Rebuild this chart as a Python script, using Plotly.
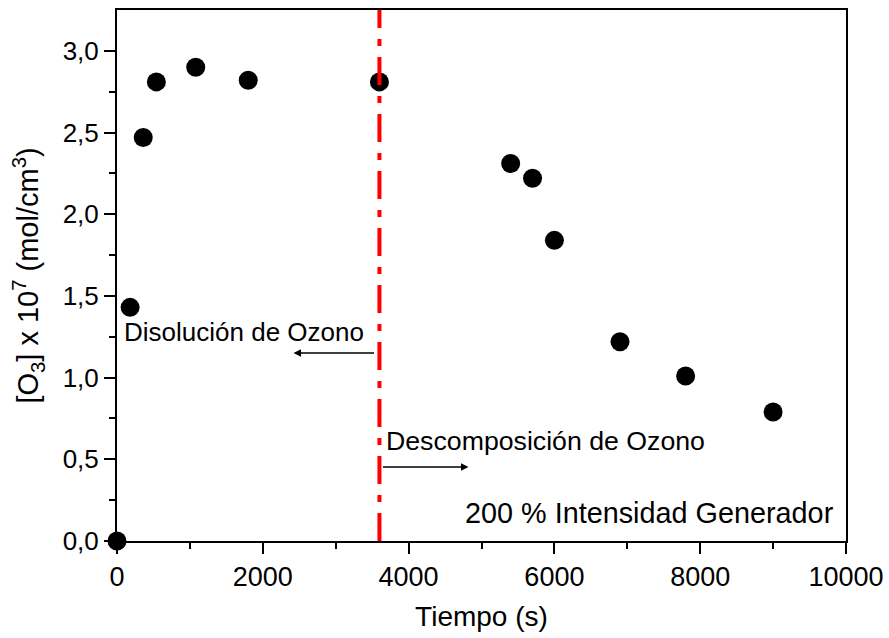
import plotly.graph_objects as go

# Data
tiempo = [0, 180, 360, 540, 1080, 1800, 3600, 5400, 5700, 6000, 6900, 7800, 9000]
ozono = [0.0, 1.43, 2.47, 2.81, 2.90, 2.82, 2.81, 2.31, 2.22, 1.84, 1.22, 1.01, 0.79]

x_tickvals = [0, 2000, 4000, 6000, 8000, 10000]
x_ticktext = ["0", "2000", "4000", "6000", "8000", "10000"]
y_tickvals = [0.0, 0.5, 1.0, 1.5, 2.0, 2.5, 3.0]
y_ticktext = ["0,0", "0,5", "1,0", "1,5", "2,0", "2,5", "3,0"]
x_minor = [1000, 3000, 5000, 7000, 9000]
y_minor = [0.25, 0.75, 1.25, 1.75, 2.25, 2.75]

t_cambio = 3600

FONT = "Liberation Sans, Arial, sans-serif"

fig = go.Figure()
fig.add_trace(go.Scatter(
    x=tiempo, y=ozono, mode="markers",
    marker=dict(color="black", size=19, line=dict(width=0)),
    cliponaxis=False, showlegend=False,
))

fig.add_shape(type="line", xref="x", yref="paper", x0=t_cambio, x1=t_cambio, y0=0, y1=1.0,
              line=dict(color="#ff0000", width=4, dash="28px,11px,7px,11px"))

annotations = [
    dict(x=70, y=1.28, text="Disolución de Ozono", xanchor="left", yanchor="middle",
         showarrow=False, font=dict(size=26, family=FONT, color="black")),
    dict(x=3660, y=0.615, text="Descomposición de Ozono", xanchor="left", yanchor="middle",
         showarrow=False, font=dict(size=26.7, family=FONT, color="black")),
    dict(x=9860, y=0.171, text="200 % Intensidad Generador", xanchor="right", yanchor="middle",
         showarrow=False, font=dict(size=28.8, family=FONT, color="black")),
    dict(x=2421, y=1.151, ax=3546, ay=1.151, axref="x", ayref="y", xref="x", yref="y",
         text="", showarrow=True, arrowhead=2, arrowsize=1, arrowwidth=1.5, arrowcolor="black"),
    dict(x=4822, y=0.453, ax=3628, ay=0.453, axref="x", ayref="y", xref="x", yref="y",
         text="", showarrow=True, arrowhead=2, arrowsize=1, arrowwidth=1.5, arrowcolor="black"),
]
for a in annotations:
    fig.add_annotation(**a)

fig.update_layout(
    width=889, height=638,
    margin=dict(l=117, r=43, t=10, b=97),
    paper_bgcolor="white", plot_bgcolor="white",
    font=dict(family=FONT, size=26, color="black"),
)
fig.update_xaxes(
    range=[0, 10000], tickmode="array", tickvals=x_tickvals, ticktext=x_ticktext,
    ticks="outside", ticklen=11, tickwidth=2, tickcolor="black",
    showline=True, linecolor="black", linewidth=2, mirror=True,
    showgrid=False, zeroline=False, automargin=False,
    minor=dict(tickmode="array", tickvals=x_minor, ticks="outside", ticklen=6, tickwidth=2, tickcolor="black"),
    title=dict(text="Tiempo (s)", font=dict(size=28)),
    tickfont=dict(size=27),
)
fig.update_yaxes(
    range=[0, 3.25], tickmode="array", tickvals=y_tickvals, ticktext=y_ticktext,
    ticks="outside", ticklen=11, tickwidth=2, tickcolor="black",
    showline=True, linecolor="black", linewidth=2, mirror=True,
    showgrid=False, zeroline=False, automargin=False,
    minor=dict(tickmode="array", tickvals=y_minor, ticks="outside", ticklen=6, tickwidth=2, tickcolor="black"),
    title=dict(text="[O<sub>3</sub>] x 10<sup>7</sup> (mol/cm<sup>3</sup>)", font=dict(size=29)),
    tickfont=dict(size=26),
)

fig.write_html("out.html")
